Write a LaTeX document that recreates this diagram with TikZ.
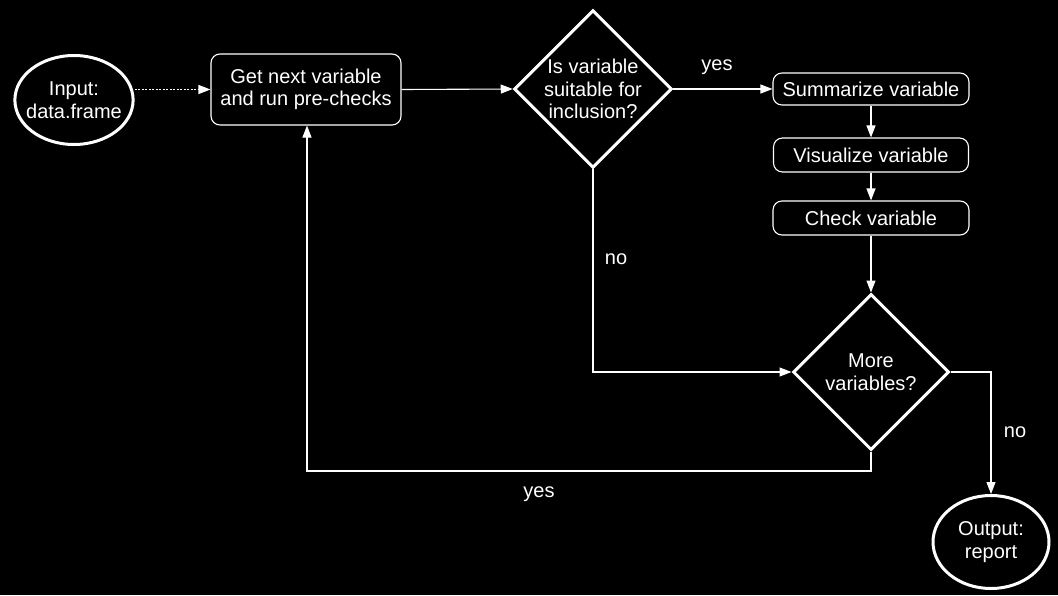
\documentclass[tikz,border=0pt]{standalone}
\usepackage{fontspec}
\setmainfont{Liberation Sans}
\usetikzlibrary{shapes.geometric,arrows.meta,positioning,calc}
\begin{document}
\begin{tikzpicture}[x=1pt,y=-1pt,
  every node/.style={text=white,font=\fontsize{20}{22.5}\selectfont},
  term/.style={draw=white,line width=3pt,ellipse,inner xsep=-6pt,inner ysep=9pt,minimum width=115pt,minimum height=89pt,align=center},
  proc/.style={draw=white,line width=1.1pt,rounded corners=9pt,align=center,inner sep=0pt},
  dec/.style={draw=white,line width=3pt,diamond,minimum width=156pt,minimum height=156pt,inner sep=0pt,align=center},
  conn/.style={draw=white,line width=1.1pt,-{Triangle[length=12pt,width=9pt]}},
  lbl/.style={text=white}
]
\fill[black] (0,0) rectangle (1058,595);
\useasboundingbox (0,0) rectangle (1058,595);

\node[term] (in) at (74,100) {Input:\\data.frame};
\node[proc,minimum width=190pt,minimum height=71pt] (get) at (306,89.5) {Get next variable\\and run pre-checks};
\node[dec] (d1) at (593,89) {Is variable\\suitable for\\inclusion?};
\node[proc,minimum width=196pt,minimum height=32pt] (sum) at (871,89) {Summarize variable};
\node[proc,minimum width=195pt,minimum height=34pt] (vis) at (871,155) {Visualize variable};
\node[proc,minimum width=196pt,minimum height=34pt] (chk) at (871,218) {Check variable};
\node[dec] (d2) at (871,372) {More\\variables?};
\node[term,minimum height=93pt,minimum width=116pt] (out) at (991,542) {Output:\\report};

\coordinate (c1) at (593,372);
\coordinate (c2) at (871,471);
\coordinate (c3) at (307,471);
\coordinate (c4) at (991,372);

\draw[draw=white,line width=1.1pt,dash pattern=on 2pt off 1.5pt] (get.west -| in.east) -- ([xshift=-12pt]get.west);
\draw[conn] ([xshift=-12.5pt]get.west) -- (get.west);
\draw[conn] (get.east) -- (d1.west);
\draw[conn] (d1.east) -- (sum.west);
\draw[conn] (sum) -- (vis);
\draw[conn] (vis) -- (chk);
\draw[conn] (chk) -- (d2.north);
\draw[conn] (d1.south) -- (c1) -- (d2.west);
\draw[conn] (d2.south) -- (c2) -- (c3) -- (c3 |- get.south);
\draw[conn] (d2.east) -- (c4) -- (out.north);

\node[lbl] (yes1) at (717,67) {yes};
\node[lbl] (no1) at (616,259) {no};
\node[lbl] (yes2) at (539,494) {yes};
\node[lbl] (no2) at (1015,432) {no};
\end{tikzpicture}
\end{document}
